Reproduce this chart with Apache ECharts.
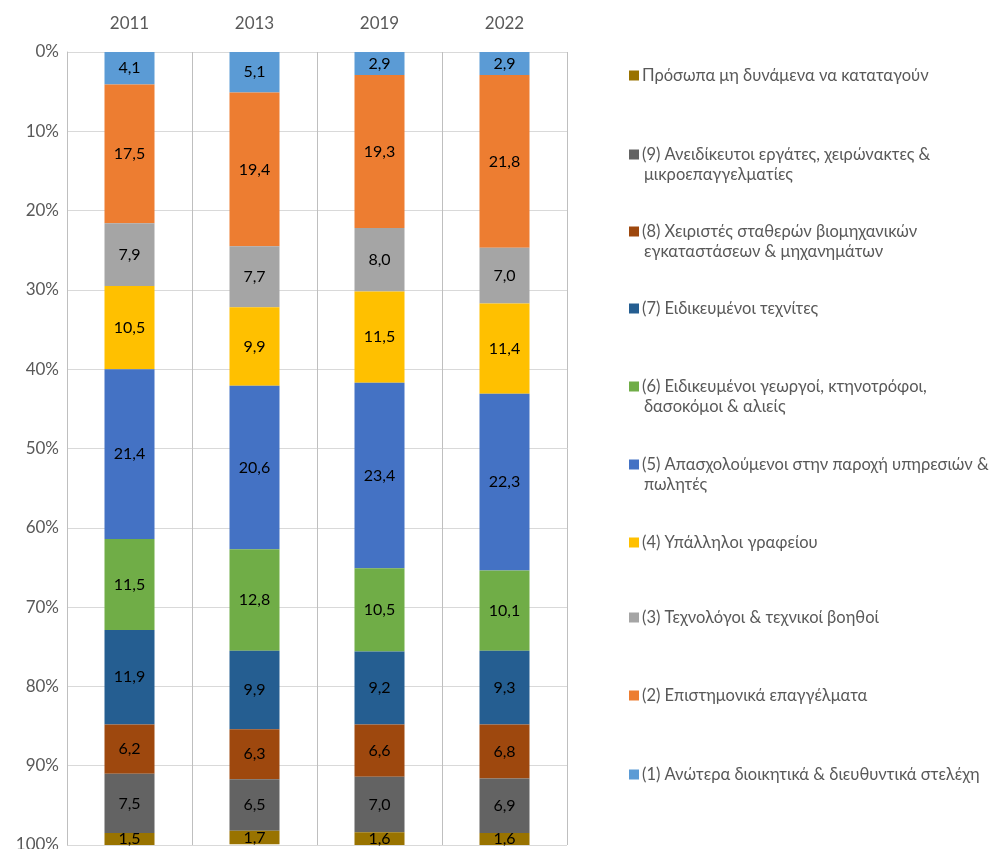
<!DOCTYPE html>
<html><head><meta charset="utf-8">
<script src="https://cdn.jsdelivr.net/npm/echarts@6/dist/echarts.min.js"></script>
<style>html,body{margin:0;padding:0;background:#fff;overflow:hidden}#c{width:991px;height:849px}</style>
</head><body><div id="c"></div>
<script>
const years = ['2011','2013','2019','2022'];
const names = [
  '(1) Ανώτερα διοικητικά & διευθυντικά στελέχη',
  '(2) Επιστημονικά επαγγέλματα',
  '(3) Τεχνολόγοι & τεχνικοί βοηθοί',
  '(4) Υπάλληλοι γραφείου',
  '(5) Απασχολούμενοι στην παροχή υπηρεσιών & πωλητές',
  '(6) Ειδικευμένοι γεωργοί, κτηνοτρόφοι, δασοκόμοι & αλιείς',
  '(7) Ειδικευμένοι τεχνίτες',
  '(8) Χειριστές σταθερών βιομηχανικών εγκαταστάσεων & μηχανημάτων',
  '(9) Ανειδίκευτοι εργάτες, χειρώνακτες & μικροεπαγγελματίες',
  'Πρόσωπα μη δυνάμενα να καταταγούν'
];
// legend display lines
const legendLines = [
  ['(1) Ανώτερα διοικητικά & διευθυντικά στελέχη'],
  ['(2) Επιστημονικά επαγγέλματα'],
  ['(3) Τεχνολόγοι & τεχνικοί βοηθοί'],
  ['(4) Υπάλληλοι γραφείου'],
  ['(5) Απασχολούμενοι στην παροχή υπηρεσιών &', 'πωλητές'],
  ['(6) Ειδικευμένοι γεωργοί, κτηνοτρόφοι,', 'δασοκόμοι & αλιείς'],
  ['(7) Ειδικευμένοι τεχνίτες'],
  ['(8) Χειριστές σταθερών βιομηχανικών', 'εγκαταστάσεων & μηχανημάτων'],
  ['(9) Ανειδίκευτοι εργάτες, χειρώνακτες &', 'μικροεπαγγελματίες'],
  ['Πρόσωπα μη δυνάμενα να καταταγούν']
];
const v1 = [4.1, 5.1, 2.9, 2.9];
const v2 = [17.5, 19.4, 19.3, 21.8];
const v3 = [7.9, 7.7, 8.0, 7.0];
const v4 = [10.5, 9.9, 11.5, 11.4];
const v5 = [21.4, 20.6, 23.4, 22.3];
const v6 = [11.5, 12.8, 10.5, 10.1];
const v7 = [11.9, 9.9, 9.2, 9.3];
const v8 = [6.2, 6.3, 6.6, 6.8];
const v9 = [7.5, 6.5, 7.0, 6.9];
const v0 = [1.5, 1.7, 1.6, 1.6];
const values = [v1, v2, v3, v4, v5, v6, v7, v8, v9, v0];
const colors = ['#5B9BD5','#ED7D31','#A5A5A5','#FFC000','#4472C4','#70AD47','#255E91','#9E480E','#636363','#997300'];
// legend row centres (top to bottom: index 9 .. 0)
const legendY = [771, 692, 614, 539, 461, 383, 305, 228, 151, 72];

const FONT = 'Lato';
const chart = echarts.init(document.getElementById('c'));
const series = values.map((d, i) => ({
  name: names[i], type: 'bar', stack: 'all', data: d, barWidth: '40%',
  itemStyle: { color: colors[i] },
  label: { show: true, position: 'inside', color: '#000', fontFamily: FONT, fontSize: 16,
           formatter: p => p.value.toFixed(1).replace('.', ',') },
  emphasis: { disabled: true }
}));
const legends = names.map((n, i) => ({
  data: [n], left: 624, top: legendY[i] - 10, itemWidth: 10, itemHeight: 10, itemGap: 6,
  icon: 'rect', selectedMode: false,
  formatter: () => legendLines[i][0],
  textStyle: { color: '#595959', fontFamily: FONT, fontSize: 16.5, padding: [0,0,0,-2] }
}));
const graphics = [];
legendLines.forEach((l, i) => {
  if (l.length > 1) graphics.push({ type: 'text', left: 644, top: legendY[i] + 15,
    style: { text: l[1], fill: '#595959', font: '16.5px ' + FONT } });
});
chart.setOption({
  animation: false,
  grid: { left: 67, width: 500, top: 52, height: 793, containLabel: false, outerBoundsMode: 'none' },
  legend: legends,
  graphic: graphics,
  xAxis: { type: 'category', data: years, position: 'top',
    axisLine: { show: false }, axisTick: { show: false },
    axisLabel: { color: '#595959', fontFamily: FONT, fontSize: 17, margin: 20 },
    splitLine: { show: true, lineStyle: { color: '#BFBFBF', width: 1 } } },
  yAxis: { type: 'value', inverse: true, min: 0, max: 100, interval: 10,
    axisLine: { show: true, lineStyle: { color: '#BFBFBF' } }, axisTick: { show: false },
    axisLabel: { color: '#595959', fontFamily: FONT, fontSize: 17, margin: 8, formatter: '{value}%' },
    splitLine: { lineStyle: { color: '#D9D9D9' } } },
  series
});
</script></body></html>
